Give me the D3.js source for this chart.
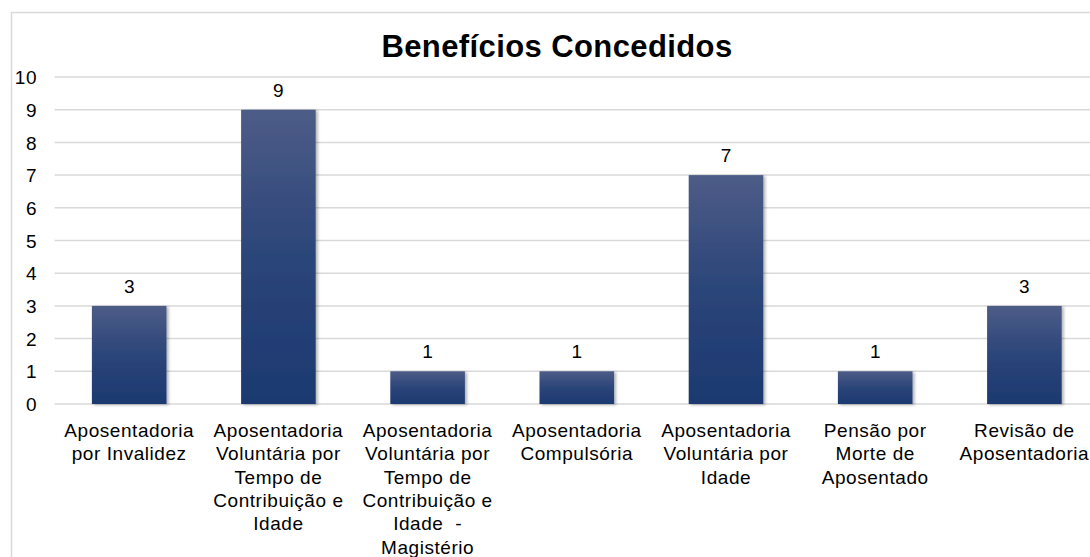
<!DOCTYPE html>
<html>
<head>
<meta charset="utf-8">
<script src="https://cdn.jsdelivr.net/npm/d3@7"></script>
<style>
  html, body { margin: 0; padding: 0; background: #fff; }
  svg { display: block; font-family: "Liberation Sans", Arial, sans-serif; }
</style>
</head>
<body>
<svg id="chart" width="1090" height="557"></svg>
<script>
const title = "Benefícios Concedidos";
const categories = [
  "Aposentadoria\npor Invalidez",
  "Aposentadoria\nVoluntária por\nTempo de\nContribuição e\nIdade",
  "Aposentadoria\nVoluntária por\nTempo de\nContribuição e\nIdade  -\nMagistério",
  "Aposentadoria\nCompulsória",
  "Aposentadoria\nVoluntária por\nIdade",
  "Pensão por\nMorte de\nAposentado",
  "Revisão de\nAposentadoria"
];
const values = [3, 9, 1, 1, 7, 1, 3];
const yTicks = [0, 1, 2, 3, 4, 5, 6, 7, 8, 9, 10];

const svg = d3.select("#chart");
const W = 1090, H = 557;
const plot = { left: 54.6, right: 1099, top: 77, bottom: 404 };

// chart border
svg.append("rect")
  .attr("x", 11.5).attr("y", 12.5)
  .attr("width", 1200).attr("height", 700)
  .attr("fill", "none").attr("stroke", "#d9d9d9").attr("stroke-width", 1.5);

const defs = svg.append("defs");
const grad = defs.append("linearGradient").attr("id", "barGrad")
  .attr("x1", 0).attr("y1", 0).attr("x2", 0).attr("y2", 1);
grad.append("stop").attr("offset", "0%").attr("stop-color", "#4d5c87");
grad.append("stop").attr("offset", "50%").attr("stop-color", "#2b4579");
grad.append("stop").attr("offset", "100%").attr("stop-color", "#1c3970");

const shadow = defs.append("filter").attr("id", "shadow")
  .attr("x", "-20%").attr("y", "-10%").attr("width", "140%").attr("height", "120%");
shadow.append("feDropShadow").attr("dx", 2).attr("dy", 1).attr("stdDeviation", 1.5)
  .attr("flood-color", "#000").attr("flood-opacity", 0.3);

const x = d3.scaleBand().domain(d3.range(categories.length))
  .range([plot.left, plot.right]).paddingInner(0.5).paddingOuter(0.25);
const y = d3.scaleLinear().domain([0, 10]).range([plot.bottom, plot.top]);

// gridlines
svg.append("g").selectAll("line").data(yTicks).join("line")
  .attr("x1", plot.left).attr("x2", W + 20)
  .attr("y1", d => y(d)).attr("y2", d => y(d))
  .attr("stroke", "#d9d9d9").attr("stroke-width", 1.5);

// y axis labels
const yAxis = d3.axisLeft(y).tickValues(yTicks).tickSize(0).tickPadding(0);
const yg = svg.append("g").attr("transform", `translate(37,0)`).call(yAxis);
yg.select(".domain").remove();
yg.selectAll("text").attr("font-size", 19).attr("fill", "#000")
  .attr("font-family", "'Liberation Sans', Arial, sans-serif").attr("dy", "0.35em")
  .attr("letter-spacing", 0.5);

// bars
svg.append("g").selectAll("rect").data(values).join("rect")
  .attr("x", (d, i) => x(i)).attr("width", x.bandwidth())
  .attr("y", d => y(d)).attr("height", d => y(0) - y(d))
  .attr("fill", "url(#barGrad)").attr("filter", "url(#shadow)");

// value labels
svg.append("g").selectAll("text").data(values).join("text")
  .attr("x", (d, i) => x(i) + x.bandwidth() / 2)
  .attr("y", d => y(d) - 13)
  .attr("text-anchor", "middle").attr("font-size", 19).attr("fill", "#000")
  .text(d => d);

// category labels
const cg = svg.append("g");
categories.forEach((c, i) => {
  const t = cg.append("text")
    .attr("x", x(i) + x.bandwidth() / 2).attr("y", 437)
    .attr("text-anchor", "middle").attr("font-size", 19).attr("fill", "#000")
    .attr("letter-spacing", 0.55);
  c.split("\n").forEach((line, j) => {
    t.append("tspan").attr("x", x(i) + x.bandwidth() / 2)
      .attr("dy", j === 0 ? 0 : 23.3).attr("xml:space", "preserve")
      .style("white-space", "pre").text(line);
  });
});

// title
svg.append("text").attr("x", 557).attr("y", 57)
  .attr("text-anchor", "middle").attr("font-size", 31).attr("font-weight", "bold")
  .attr("letter-spacing", 0.4)
  .attr("fill", "#000").text(title);
</script>
</body>
</html>
